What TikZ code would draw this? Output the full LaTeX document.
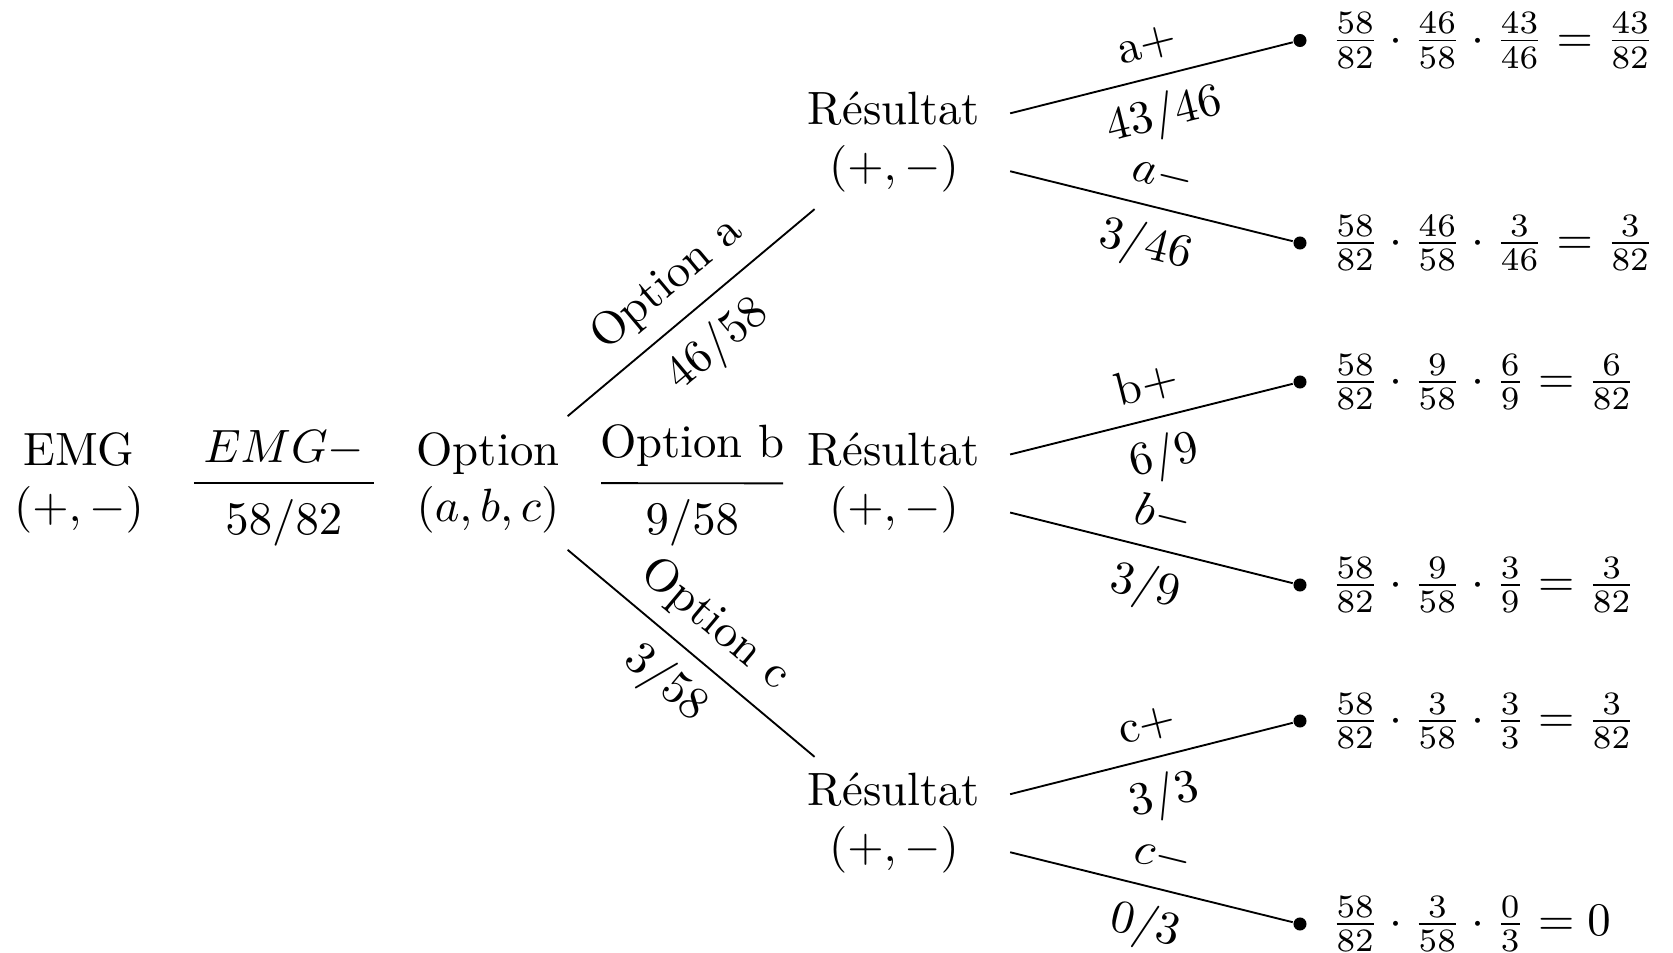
\documentclass[tikz,border=0pt]{standalone}
\usepackage{fontspec}
\begin{document}
\begin{tikzpicture}[x=0.21413pt, y=0.21413pt,
  st/.style={align=center},
  dotnode/.style={circle, fill=black, inner sep=0pt, minimum size=2.8pt},
  leaftext/.style={anchor=west, inner sep=3.33pt},
  lv3/.style={shorten <=3pt}]
\useasboundingbox (0,0) rectangle (1673,-953);
% main nodes
\node[st] (emg) at (79,-483) {EMG\\$(+,-)$};
\node[st] (opt) at (488,-483) {Option\\$(a,b,c)$};
\node[st] (ra) at (894,-142.5) {Résultat\\$(+,-)$};
\node[st] (rb) at (894,-483.5) {Résultat\\$(+,-)$};
\node[st] (rc) at (894,-823.5) {Résultat\\$(+,-)$};
% leaves
\node[dotnode] (la1) at (1300,-40.5) {};
\node[dotnode] (la2) at (1300,-243) {};
\node[dotnode] (lb1) at (1300,-382) {};
\node[dotnode] (lb2) at (1300,-585) {};
\node[dotnode] (lc1) at (1300,-721) {};
\node[dotnode] (lc2) at (1300,-924) {};
\node[leaftext] (ta1) at ([xshift=1.5pt]la1.east) {$\frac{58}{82}\cdot\frac{46}{58}\cdot\frac{43}{46}=\frac{43}{82}$};
\node[leaftext] (ta2) at ([xshift=1.5pt]la2.east) {$\frac{58}{82}\cdot\frac{46}{58}\cdot\frac{3}{46}=\frac{3}{82}$};
\node[leaftext] (tb1) at ([xshift=1.5pt]lb1.east) {$\frac{58}{82}\cdot\frac{9}{58}\cdot\frac{6}{9}=\frac{6}{82}$};
\node[leaftext] (tb2) at ([xshift=1.5pt]lb2.east) {$\frac{58}{82}\cdot\frac{9}{58}\cdot\frac{3}{9}=\frac{3}{82}$};
\node[leaftext] (tc1) at ([xshift=1.5pt]lc1.east) {$\frac{58}{82}\cdot\frac{3}{58}\cdot\frac{3}{3}=\frac{3}{82}$};
\node[leaftext] (tc2) at ([xshift=1.5pt]lc2.east) {$\frac{58}{82}\cdot\frac{3}{58}\cdot\frac{0}{3}=0$};
% first level
\draw[shorten <=7.2pt, shorten >=5.6pt] (emg) -- node[pos=0.515, above]{$EMG-$} node[pos=0.515, below]{$58/82$} (opt);
% second level
\draw (opt) -- node[above, sloped]{Option a} node[below=0.5pt, sloped]{$46/58$} (ra);
\draw[shorten <=5.4pt, shorten >=1.8pt] (opt) -- node[pos=0.54, above]{Option b} node[pos=0.54, below]{$9/58$} (rb);
\draw (opt) -- node[above, sloped]{Option c} node[below, sloped]{$3/58$} (rc);
% third level
\draw[lv3] (ra) -- node[pos=0.535, above, sloped]{a+} node[pos=0.535, below, sloped]{$43/46$} (la1);
\draw[lv3] (ra) -- node[pos=0.535, above, sloped]{$a-$} node[pos=0.535, below, sloped]{$3/46$} (la2);
\draw[lv3] (rb) -- node[pos=0.535, above, sloped]{b+} node[pos=0.535, below, sloped]{$6/9$} (lb1);
\draw[lv3] (rb) -- node[pos=0.535, above, sloped]{$b-$} node[pos=0.535, below, sloped]{$3/9$} (lb2);
\draw[lv3] (rc) -- node[pos=0.535, above, sloped]{c+} node[pos=0.535, below, sloped]{$3/3$} (lc1);
\draw[lv3] (rc) -- node[pos=0.535, above, sloped]{$c-$} node[pos=0.535, below, sloped]{$0/3$} (lc2);
\end{tikzpicture}
\end{document}
